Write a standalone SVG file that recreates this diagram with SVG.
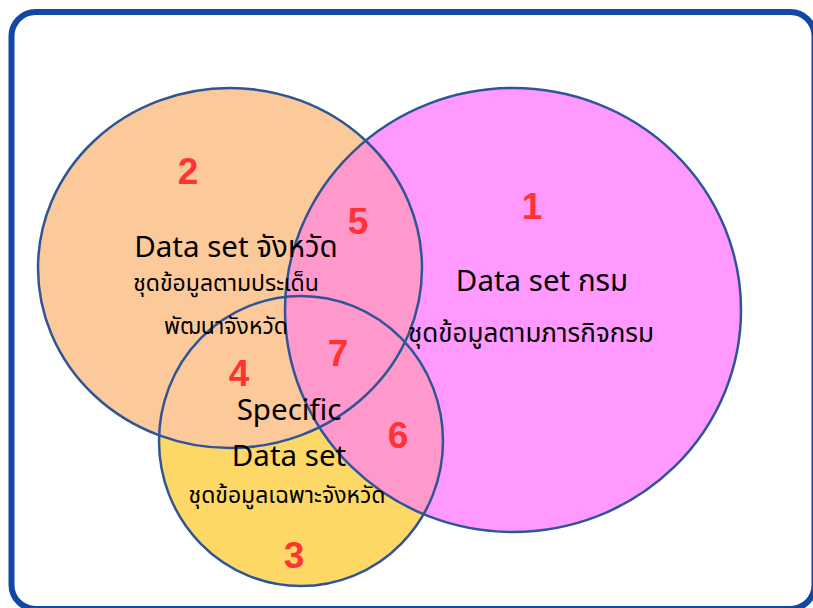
<svg xmlns="http://www.w3.org/2000/svg" width="813" height="608" viewBox="0 0 813 608">
<style>
.ol{fill:none;stroke:#2F5597;stroke-width:2.5}
.num{font-family:"Liberation Sans Narrow","Liberation Sans",Arial,sans-serif;font-weight:bold;font-size:37px;fill:#FF3333;text-anchor:middle}
.t1{font-family:"Noto Sans","Noto Sans Thai",Tahoma,sans-serif;font-size:29.5px;fill:#000;text-anchor:middle}
.t2{font-family:"Noto Sans","Noto Sans Thai",Tahoma,sans-serif;font-size:23px;fill:#000;text-anchor:middle}
.t3{font-family:"Noto Sans","Noto Sans Thai",Tahoma,sans-serif;font-size:26px;fill:#000;text-anchor:middle}
</style>
<defs>
<clipPath id="cMag"><ellipse cx="513" cy="310" rx="228" ry="222"/></clipPath>
</defs>
<rect width="813" height="608" fill="#fff"/>
<rect x="11.5" y="12" width="803" height="597" rx="24" fill="#fff" stroke="#1148A6" stroke-width="6"/>
<g id="fills">
<ellipse cx="301" cy="441" rx="142" ry="145" fill="#FDD867"/>
<ellipse cx="230" cy="268" rx="192" ry="180" fill="#FCC99A"/>
<ellipse cx="513" cy="310" rx="228" ry="222" fill="#FF99FF"/>
<g clip-path="url(#cMag)" fill="#FF99CC">
<ellipse cx="301" cy="441" rx="142" ry="145"/>
<ellipse cx="230" cy="268" rx="192" ry="180"/>
</g>
</g>
<g id="node-province">
<ellipse class="ol" cx="230" cy="268" rx="192" ry="180"/>
</g>
<g id="node-department">
<ellipse class="ol" cx="513" cy="310" rx="228" ry="222"/>
</g>
<g id="node-specific">
<ellipse class="ol" cx="301" cy="441" rx="142" ry="145"/>
</g>
<g id="connectors"></g>
<g id="labels">
<text class="t1" x="236" y="257">Data set จังหวัด</text>
<text class="t2" x="226" y="291">ชุดข้อมูลตามประเด็น</text>
<text class="t2" x="226" y="334">พัฒนาจังหวัด</text>
<text class="t1" x="542" y="291">Data set กรม</text>
<text class="t3" x="531" y="342">ชุดข้อมูลตามภารกิจกรม</text>
<text class="t1" x="289" y="420">Specific</text>
<text class="t1" x="289" y="466">Data set</text>
<text class="t2" x="287" y="503">ชุดข้อมูลเฉพาะจังหวัด</text>
</g>
<g id="numbers">
<text class="num" x="532" y="219">1</text>
<text class="num" x="188" y="184">2</text>
<text class="num" x="294" y="568">3</text>
<text class="num" x="239" y="386">4</text>
<text class="num" x="358" y="234">5</text>
<text class="num" x="398" y="448">6</text>
<text class="num" x="338" y="366">7</text>
</g>
</svg>
